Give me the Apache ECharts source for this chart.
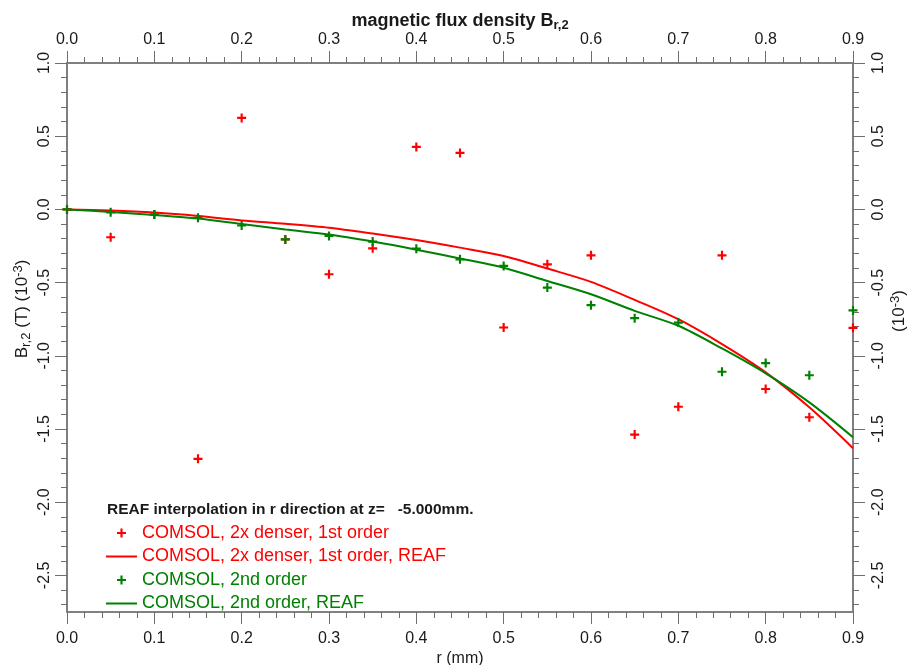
<!DOCTYPE html>
<html>
<head>
<meta charset="utf-8">
<script src="https://cdn.jsdelivr.net/npm/echarts@6/dist/echarts.min.js"></script>
<style>html,body{margin:0;padding:0;background:#fff}#c{width:907px;height:665px}</style>
</head>
<body>
<div id="c"></div>
<script>
// r positions (mm)
const rValues = [0.00, 0.05, 0.10, 0.15, 0.20, 0.25, 0.30, 0.35, 0.40, 0.45, 0.50, 0.55, 0.60, 0.65, 0.70, 0.75, 0.80, 0.85, 0.90];
// COMSOL, 2x denser, 1st order (points)
const red1stPts = [0.000, -0.190, -0.035, -1.704, 0.625, -0.205, -0.443, -0.266, 0.427, 0.386, -0.807, -0.375, -0.314, -1.538, -1.348, -0.314, -1.227, -1.420, -0.809];
// COMSOL, 2x denser, 1st order, REAF (curve)
const red1stReaf = [0.000, -0.008, -0.022, -0.045, -0.075, -0.098, -0.125, -0.165, -0.209, -0.261, -0.318, -0.404, -0.495, -0.618, -0.750, -0.920, -1.113, -1.352, -1.631];
// COMSOL, 2nd order (points)
const green2ndPts = [0.000, -0.020, -0.035, -0.057, -0.110, -0.205, -0.182, -0.220, -0.268, -0.341, -0.386, -0.534, -0.654, -0.743, -0.773, -1.109, -1.050, -1.133, -0.690];
// COMSOL, 2nd order, REAF (curve)
const green2ndReaf = [0.000, -0.018, -0.038, -0.062, -0.100, -0.138, -0.172, -0.220, -0.275, -0.335, -0.398, -0.489, -0.580, -0.693, -0.795, -0.950, -1.120, -1.318, -1.556];

const seriesNames = ['COMSOL, 2x denser, 1st order', 'COMSOL, 2x denser, 1st order, REAF', 'COMSOL, 2nd order', 'COMSOL, 2nd order, REAF'];
const xTickLabels = ['0.0','0.1','0.2','0.3','0.4','0.5','0.6','0.7','0.8','0.9'];
const yMajorTicks = [-2.5, -2.0, -1.5, -1.0, -0.5, 0.0, 0.5, 1.0];
const yMin = -2.75, yMax = 1.0;

const yMinorTicks = [];
for (let k = -27; k <= 10; k++) yMinorTicks.push(k / 10);

const FONT = 'Liberation Sans, Arial, sans-serif';
const RED = '#ff0000', GREEN = '#008000';
const AXIS_GRAY = '#808080', TICK_GRAY = '#6e6e6e', TXT = '#1a1a1a';
const PLUS = 'path://M3.8,0H6.2V3.8H10V6.2H6.2V10H3.8V6.2H0V3.8H3.8Z';
const LINE_ICON = 'path://M0,0H31V2H0Z';

function pairs(arr) { return rValues.map((r, i) => [r, arr[i]]).filter(p => p[1] !== null); }

function xAxisDef(pos) {
  return {
    type: 'value', position: pos, min: 0, max: 0.9, interval: 0.1,
    axisLine: { show: true, onZero: false, lineStyle: { color: AXIS_GRAY, width: 2 } },
    axisTick: { show: true, inside: false, length: 12, lineStyle: { color: TICK_GRAY, width: 1 } },
    minorTick: { show: true, splitNumber: 5, length: 6, lineStyle: { color: TICK_GRAY, width: 1 } },
    splitLine: { show: false }, minorSplitLine: { show: false },
    axisLabel: { margin: pos === 'top' ? 15 : 19, fontSize: 16, color: TXT, fontFamily: FONT, formatter: v => xTickLabels[Math.round(v * 10)] }
  };
}

function yMain(pos) {
  return {
    type: 'value', position: pos, min: yMin, max: yMax,
    axisLine: { show: true, onZero: false, lineStyle: { color: AXIS_GRAY, width: 2 } },
    axisTick: { show: true, length: 12, customValues: yMajorTicks, lineStyle: { color: TICK_GRAY, width: 1 } },
    splitLine: { show: false },
    axisLabel: { rotate: 90, margin: pos === 'left' ? 14 : 18, fontSize: 16, color: TXT, fontFamily: FONT, customValues: yMajorTicks, formatter: v => v.toFixed(1) }
  };
}
function yMinor(pos) {
  return {
    type: 'value', position: pos, min: yMin, max: yMax, offset: 0,
    axisLine: { show: false, onZero: false },
    axisTick: { show: true, length: 6, customValues: yMinorTicks, lineStyle: { color: TICK_GRAY, width: 1 } },
    axisLabel: { show: false }, splitLine: { show: false }
  };
}

const xBottom = Object.assign(xAxisDef('bottom'), { name: 'r (mm)', nameLocation: 'middle', nameGap: 39, nameMoveOverlap: false,
  nameTextStyle: { fontSize: 16, color: TXT, fontFamily: FONT } });
const xTop = Object.assign(xAxisDef('top'), { name: 'magnetic flux density B{sub|r,2}', nameLocation: 'middle', nameGap: 31, nameMoveOverlap: false,
  nameTextStyle: { fontSize: 18, fontWeight: 'bold', color: TXT, fontFamily: FONT,
    rich: { sub: { fontSize: 13, fontWeight: 'bold', color: TXT, fontFamily: FONT, verticalAlign: 'bottom', padding: [8, 0, 0, 0] } } } });

const chart = echarts.init(document.getElementById('c'), null, { renderer: 'canvas' });
chart.setOption({
  backgroundColor: '#ffffff',
  animation: false,
  grid: { left: 67, right: 54, top: 63, bottom: 53, containLabel: false, outerBoundsMode: 'none' },
  xAxis: [xBottom, xTop],
  yAxis: [yMain('left'), yMain('right'), yMinor('left'), yMinor('right')],
  legend: {
    orient: 'vertical', left: 106, top: 524, padding: 0, itemWidth: 31, itemHeight: 9, itemGap: 5.5,
    selectedMode: false,
    textStyle: { fontSize: 18, lineHeight: 18, fontFamily: FONT },
    data: [
      { name: seriesNames[0], textStyle: { color: RED } },
      { name: seriesNames[1], icon: LINE_ICON, textStyle: { color: RED } },
      { name: seriesNames[2], textStyle: { color: GREEN } },
      { name: seriesNames[3], icon: LINE_ICON, textStyle: { color: GREEN } }
    ]
  },
  graphic: [
    { type: 'text', left: 107, top: 502, style: { text: 'REAF interpolation in r direction at z=   -5.000mm.', fontSize: 15.5, fontWeight: 'bold', fill: TXT, fontFamily: FONT } },
    { type: 'text', x: 22, y: 309, rotation: Math.PI / 2,
      style: { text: 'B{sub|r,2} (T) (10{sup|-3})', fontSize: 17, fill: TXT, fontFamily: FONT, align: 'center', verticalAlign: 'middle',
        rich: { sub: { fontSize: 13, fill: TXT, fontFamily: FONT, padding: [9, 0, 0, 0] }, sup: { fontSize: 13, fill: TXT, fontFamily: FONT, padding: [0, 0, 8, 0] } } } },
    { type: 'text', x: 899, y: 311, rotation: Math.PI / 2,
      style: { text: '(10{sup|-3})', fontSize: 17, fill: TXT, fontFamily: FONT, align: 'center', verticalAlign: 'middle',
        rich: { sup: { fontSize: 13, fill: TXT, fontFamily: FONT, padding: [0, 0, 8, 0] } } } }
  ],
  series: [
    { name: seriesNames[1], type: 'line', xAxisIndex: 0, yAxisIndex: 0, data: pairs(red1stReaf), symbol: 'none', smooth: 0.3,
      lineStyle: { color: RED, width: 2 }, itemStyle: { color: RED }, z: 2 },
    { name: seriesNames[3], type: 'line', xAxisIndex: 0, yAxisIndex: 0, data: pairs(green2ndReaf), symbol: 'none', smooth: 0.3,
      lineStyle: { color: GREEN, width: 2 }, itemStyle: { color: GREEN }, z: 3 },
    { name: seriesNames[0], type: 'scatter', xAxisIndex: 0, yAxisIndex: 0, data: pairs(red1stPts), symbol: PLUS, symbolSize: 9,
      itemStyle: { color: RED, opacity: 1 }, z: 4 },
    { name: seriesNames[2], type: 'scatter', xAxisIndex: 0, yAxisIndex: 0, data: pairs(green2ndPts), symbol: PLUS, symbolSize: 9,
      itemStyle: { color: GREEN, opacity: 1 }, z: 5 }
  ]
});
</script>
</body>
</html>
